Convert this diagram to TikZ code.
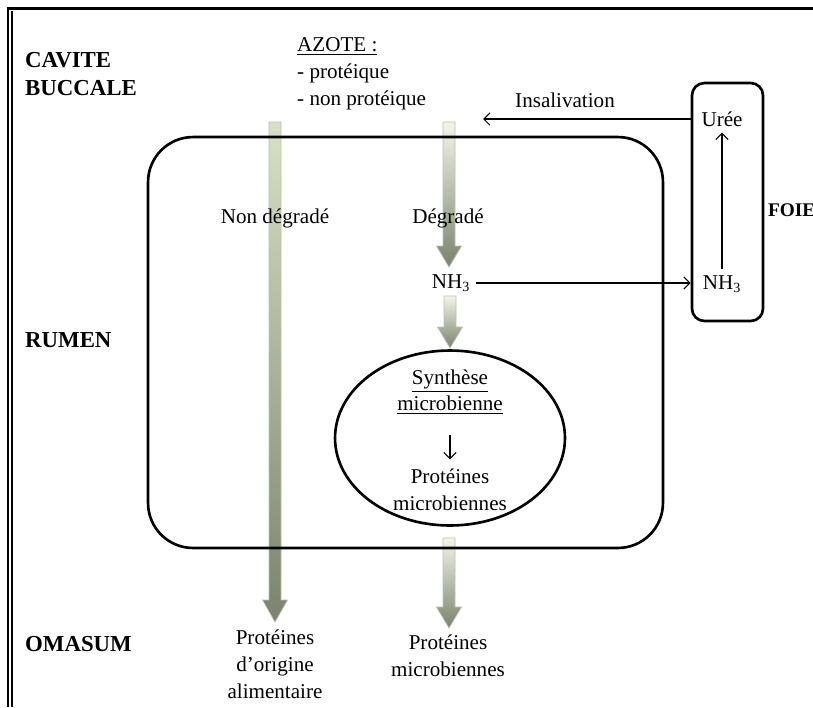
\documentclass[tikz,border=0pt]{standalone}
\usepackage{fontspec}
\setmainfont{Liberation Serif}
\usetikzlibrary{shapes.geometric, arrows.meta}

\definecolor{vertpale}{HTML}{F3F5E8}
\definecolor{vertclair}{HTML}{D8E0C6}
\definecolor{vertfonce}{HTML}{7A836D}
\definecolor{vertbord}{HTML}{B9C3A6}

\tikzset{
	flux/.style={top color=#1, bottom color=vertfonce, draw=vertbord, line width=0.4pt},
	zone/.style={font=\fontsize{13}{16}\selectfont\bfseries, anchor=west, align=left},
	fin/.style={->, line width=0.6pt},
	boite/.style={draw, line width=1.5pt},
	>={Straight Barb[length=3.5pt, width=7pt]}
}

% block arrow: x, top, start of head, tip, top colour
\newcommand{\blocfleche}[5]{%
	\path[flux=#5] (#1-6,#2) -- (#1+6,#2) -- (#1+6,#3) -- (#1+12.5,#3) -- (#1,#4) -- (#1-12.5,#3) -- (#1-6,#3) -- cycle;}

\begin{document}
\begin{tikzpicture}[x=0.02cm, y=-0.02cm, font=\fontsize{12}{15.3}\selectfont]
	\useasboundingbox (0,0) rectangle (813,707);

	% frame
	\draw[line width=1.7pt] (6.5,8.5) -- (813,8.5);
	\draw[line width=0.6pt] (8,8) -- (8,707);
	\draw[line width=0.6pt] (12,11) -- (12,707);

	% flows
	\blocfleche{275}{122}{600}{622}{vertclair}
	\blocfleche{449}{122}{246}{267}{vertpale}
	\blocfleche{450}{296}{327}{348}{vertpale}
	\blocfleche{449}{538}{607}{628}{vertpale}

	% compartments
	\node[boite, rounded corners=0.9cm, minimum width=10.3cm, minimum height=8.22cm] (rumen) at (405.5,342.5) {};
	\node[boite, rounded corners=7pt, minimum width=1.42cm, minimum height=4.76cm] (foie) at (727.5,202) {};
	\node[boite, ellipse, minimum width=4.6cm, minimum height=3.5cm] (cellule) at (450,438) {};

	% zones
	\node[zone] (cavite) at (19,74) {CAVITE\\BUCCALE};
	\node[zone] (rum) at (19,340) {RUMEN};
	\node[zone] (omasum) at (19,644) {OMASUM};
	\node[zone, font=\fontsize{11}{13}\selectfont\bfseries, inner sep=1pt] (foietxt) at (766,210) {FOIE};

	% texts
	\node[anchor=west, align=left] (azote) at (291,74) {\underline{AZOTE :}\\- protéique\\- non protéique};
	\node (insal) at (565,100) {Insalivation};
	\node (uree) at (722,119) {Urée};
	\node (nhf) at (722,284) {NH\textsubscript{3}};
	\node (nondeg) at (275,218) {Non dégradé};
	\node (deg) at (448,218) {Dégradé};
	\node (nhr) at (451,283) {NH\textsubscript{3}};
	\node[align=center] (synth) at (450,392) {\underline{Synthèse}\\\underline{microbienne}};
	\node[align=center] (protm) at (450,490) {Protéines\\microbiennes};
	\node[align=center] (protal) at (275,664) {Protéines\\d’origine\\alimentaire};
	\node[align=center] (protmi) at (448,656) {Protéines\\microbiennes};

	\coordinate (insalfin) at (483,119);

	% connectors
	\draw[fin] (foie.west |- uree) -- (insalfin);
	\draw[fin] (nhr) -- (nhr -| foie.west);
	\draw[fin] (nhf) -- (uree);
	\draw[fin, shorten <=8pt, shorten >=2pt] (synth) -- (protm);
\end{tikzpicture}
\end{document}
